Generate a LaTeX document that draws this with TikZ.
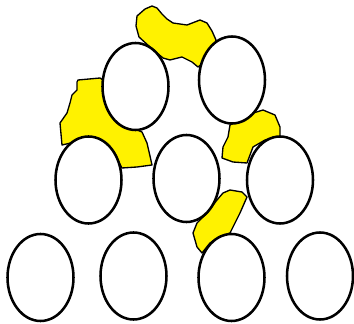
\documentclass[tikz,border=0pt]{standalone}
\usepackage{tikz}
\begin{document}
\begin{tikzpicture}[x=0.75pt,y=-0.75pt,
    patch/.style={fill=yellow,draw=black,line width=1pt,line join=round},
    ball/.style={fill=white,draw=black,line width=1.9pt}]
\useasboundingbox[fill=white] (0,0) rectangle (354,324);
% yellow patches between the balls
\draw[patch] (137,16) -- (145,9) -- (152,6) -- (157,8) -- (162,14) -- (167,19) -- (173,23)
  -- (187,25) -- (200,20) -- (207,23) -- (212,31) -- (216,40) -- (214,50) -- (206,61)
  -- (198,67) -- (192,62) -- (182,57) -- (170,60) -- (163,58) -- (150,47) -- (139,37)
  -- (136,26) -- cycle;
\draw[patch] (78,80) -- (100,78) -- (106,82) -- (112,110) -- (128,126) -- (142,132)
  -- (147,143) -- (150,156) -- (152,165) -- (137,167) -- (122,168) -- (113,151)
  -- (100,141) -- (87,138) -- (75,142) -- (62,145) -- (60,123) -- (67,113) -- (70,103)
  -- (72,95) -- (77,90) -- (77,82) -- cycle;
\draw[patch] (230,125) -- (247,115) -- (263,110) -- (275,115) -- (280,127) -- (280,137)
  -- (265,140) -- (253,147) -- (247,163) -- (233,162) -- (222,158) -- (223,147)
  -- (228,137) -- cycle;
\draw[patch] (230,190) -- (242,192) -- (247,197) -- (240,213) -- (233,227) -- (230,233)
  -- (220,237) -- (210,243) -- (202,253) -- (197,247) -- (193,233) -- (197,223)
  -- (207,213) -- (217,200) -- (223,193) -- cycle;
% balls, top row to bottom row
\foreach \cx/\cy in {135.5/86.5, 232/80,
                     88.5/180, 186.5/178.5, 280/180,
                     40.5/277.5, 133.5/276, 231.5/277.5, 320/276}
  \draw[ball] (\cx,\cy) ellipse [x radius=33, y radius=43.5];
\end{tikzpicture}
\end{document}
